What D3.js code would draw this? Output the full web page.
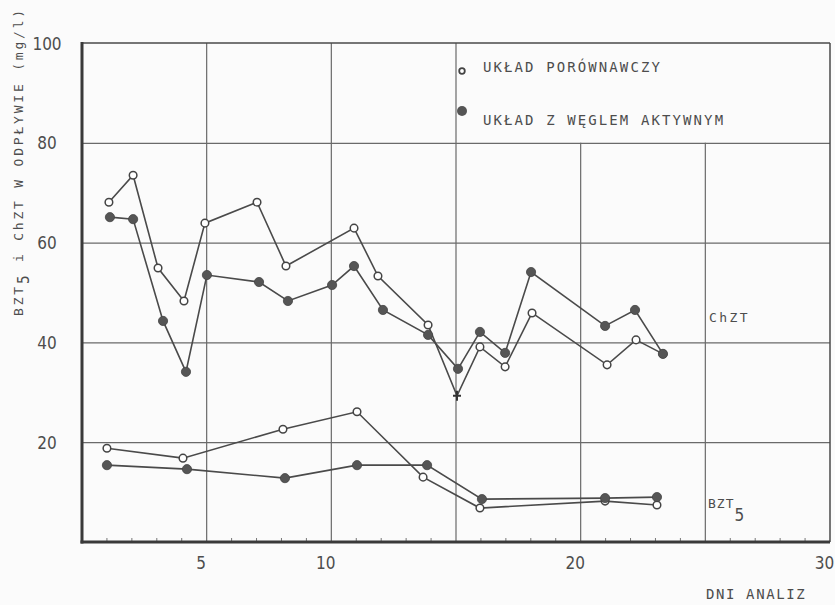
<!DOCTYPE html>
<html>
<head>
<meta charset="utf-8">
<script src="https://cdn.jsdelivr.net/npm/d3@7"></script>
<style>
  html, body { margin: 0; padding: 0; background: #fbfbfb; }
  svg { display: block; }
</style>
</head>
<body>
<svg id="chart" width="835" height="605"></svg>
<script>
// ---- data ----
const chztOpenDays   = [1.08, 2.05, 3.05, 4.09, 4.93, 7.02, 8.18, 10.91, 11.87, 13.88, 15.04, 15.96, 16.97, 18.05, 21.06, 22.22, 23.3];
const chztOpenValues = [68.1, 73.5, 54.9, 48.3, 63.9, 68.1, 55.3, 62.9, 53.3, 43.5, 29.3, 39.1, 35.1, 45.9, 35.5, 40.5, 37.7];
const chztFilledDays   = [1.12, 2.05, 3.25, 4.17, 5.01, 7.1, 8.26, 10.03, 10.91, 12.07, 13.88, 15.08, 15.96, 16.97, 18.01, 20.98, 22.18, 23.3];
const chztFilledValues = [65.1, 64.7, 44.3, 34.1, 53.5, 52.1, 48.3, 51.5, 55.3, 46.5, 41.5, 34.7, 42.1, 37.9, 54.1, 43.3, 46.5, 37.7];
const bztOpenDays   = [1.0, 4.05, 8.06, 11.03, 13.68, 15.96, 20.98, 23.06];
const bztOpenValues = [18.8, 16.8, 22.6, 26.1, 13.0, 6.8, 8.2, 7.4];
const bztFilledDays   = [1.0, 4.21, 8.14, 11.03, 13.84, 16.04, 20.98, 23.06];
const bztFilledValues = [15.4, 14.6, 12.8, 15.4, 15.4, 8.6, 8.8, 9.0];
const crossPointIndex = 10; // the open ChZT point drawn as "+"

const yTicks = [20, 40, 60, 80, 100];
const xTickLabels = [5, 10, 20, 30];
const xGrid = [5, 10, 15, 20, 25];
const xMinor = d3.range(1, 30).filter(d => d % 5 !== 0);
const legendLabels = ["UKŁAD PORÓWNAWCZY", "UKŁAD Z WĘGLEM AKTYWNYM"];

// ---- layout ----
const svg = d3.select("#chart");
const x = d3.scaleLinear().domain([0, 30]).range([82, 830]);
const y = d3.scaleLinear().domain([0, 100]).range([542, 43]);
const ink = "#4a4a4a";
const gridCol = "#6a6a6a";
const textCol = "#4d4d4d";
const labelFont = "'Liberation Sans Narrow', 'DejaVu Sans Condensed', sans-serif";
const monoFont = "'DejaVu Sans Mono', monospace";

// horizontal grid lines (full width)
const hg = svg.append("g")
  .attr("transform", `translate(${x(0)},0)`)
  .call(d3.axisLeft(y).tickValues([20, 40, 60, 80]).tickSize(-(x(30) - x(0))).tickFormat(""));
hg.select(".domain").remove();
hg.selectAll("line").attr("stroke", gridCol).attr("stroke-width", 1.3);

// vertical grid lines: 5,10,15 full height; 20,25 stop below the legend (at 80)
const vg = svg.append("g");
vg.selectAll("line").data(xGrid).join("line")
  .attr("x1", d => x(d)).attr("x2", d => x(d))
  .attr("y1", d => d >= 20 ? y(80) : y(100))
  .attr("y2", y(0))
  .attr("stroke", gridCol).attr("stroke-width", 1.2);

// minor ticks on the bottom axis
svg.append("g").selectAll("line").data(xMinor).join("line")
  .attr("x1", d => x(d)).attr("x2", d => x(d))
  .attr("y1", y(0)).attr("y2", y(0) - 4)
  .attr("stroke", "#777").attr("stroke-width", 1);

// frame: thin top and right, thick left and bottom
svg.append("line").attr("x1", x(0)).attr("x2", x(30)).attr("y1", y(100)).attr("y2", y(100))
  .attr("stroke", ink).attr("stroke-width", 1.5);
svg.append("line").attr("x1", x(30)).attr("x2", x(30)).attr("y1", y(100)).attr("y2", y(0))
  .attr("stroke", ink).attr("stroke-width", 1.5);
svg.append("line").attr("x1", x(0)).attr("x2", x(0)).attr("y1", y(100) - 1).attr("y2", y(0) + 1.5)
  .attr("stroke", "#3a3a3a").attr("stroke-width", 3);
svg.append("line").attr("x1", x(0) - 1.5).attr("x2", x(30)).attr("y1", y(0)).attr("y2", y(0))
  .attr("stroke", "#3a3a3a").attr("stroke-width", 3);

// y tick labels
const ya = svg.append("g")
  .attr("transform", `translate(47,0)`)
  .call(d3.axisLeft(y).tickValues(yTicks).tickSize(0).tickPadding(0));
ya.select(".domain").remove();
ya.selectAll("text")
  .attr("text-anchor", "middle").attr("dy", "0.36em")
  .style("font-family", labelFont).style("font-size", "17px").attr("fill", textCol);

// x tick labels
const xa = svg.append("g")
  .attr("transform", `translate(-6,555)`)
  .call(d3.axisBottom(x).tickValues(xTickLabels).tickSize(0).tickPadding(0));
xa.select(".domain").remove();
xa.selectAll("text")
  .attr("dy", "0.8em")
  .style("font-family", labelFont).style("font-size", "17px").attr("fill", textCol);

// series
const line = d3.line().x(d => x(d[0])).y(d => y(d[1]));
const zip = (a, b) => a.map((d, i) => [d, b[i]]);
const series = [
  { pts: zip(chztOpenDays, chztOpenValues), filled: false, cross: crossPointIndex },
  { pts: zip(chztFilledDays, chztFilledValues), filled: true },
  { pts: zip(bztOpenDays, bztOpenValues), filled: false },
  { pts: zip(bztFilledDays, bztFilledValues), filled: true }
];
series.forEach(s => {
  svg.append("path").attr("d", line(s.pts))
    .attr("fill", "none").attr("stroke", ink).attr("stroke-width", 1.6);
});
series.forEach(s => {
  const g = svg.append("g");
  s.pts.forEach((p, i) => {
    if (s.cross === i) {
      g.append("path")
        .attr("d", `M${x(p[0]) - 4},${y(p[1])}H${x(p[0]) + 4}M${x(p[0])},${y(p[1]) - 5}V${y(p[1]) + 5}`)
        .attr("stroke", "#333").attr("stroke-width", 2);
    } else if (s.filled) {
      g.append("circle").attr("cx", x(p[0])).attr("cy", y(p[1])).attr("r", 4.6)
        .attr("fill", "#555").attr("stroke", "#444").attr("stroke-width", 0.8);
    } else {
      g.append("circle").attr("cx", x(p[0])).attr("cy", y(p[1])).attr("r", 3.8)
        .attr("fill", "#fff").attr("stroke", "#444").attr("stroke-width", 1.5);
    }
  });
});

// legend
svg.append("circle").attr("cx", 462).attr("cy", 71).attr("r", 2.8)
  .attr("fill", "#fff").attr("stroke", "#444").attr("stroke-width", 1.8);
svg.append("circle").attr("cx", 462).attr("cy", 111).attr("r", 5)
  .attr("fill", "#555");
svg.append("g").selectAll("text").data(legendLabels).join("text")
  .attr("x", 483).attr("y", (d, i) => i === 0 ? 72 : 125)
  .text(d => d)
  .style("font-family", monoFont).style("font-size", "14px")
  .style("letter-spacing", "2.1px").attr("fill", textCol);

// series labels
svg.append("text").attr("x", 709).attr("y", 322).text("ChZT")
  .style("font-family", monoFont).style("font-size", "13px")
  .style("letter-spacing", "2.4px").attr("fill", textCol);
const bzt = svg.append("text").attr("x", 708).attr("y", 508)
  .style("font-family", monoFont).style("font-size", "13px").attr("fill", textCol);
bzt.append("tspan").text("BZT").style("letter-spacing", "1px");
bzt.append("tspan").attr("dy", 13).text("5").style("font-size", "17px").style("font-family", labelFont);

// x axis title
svg.append("text").attr("x", 706).attr("y", 599).text("DNI ANALIZ")
  .style("font-family", monoFont).style("font-size", "14px")
  .style("letter-spacing", "1.6px").attr("fill", textCol);

// y axis title (rotated)
const yt = svg.append("text")
  .attr("transform", "translate(23,316) rotate(-90)")
  .style("font-family", monoFont).style("font-size", "13px")
  .style("letter-spacing", "2.8px").attr("fill", textCol);
yt.append("tspan").text("BZT");
yt.append("tspan").attr("dy", 6).text("5").style("font-size", "15px").style("font-family", labelFont);
yt.append("tspan").attr("dy", -6).text(" i ChZT W ODPŁYWIE  ");
yt.append("tspan").text("(mg/l)");
</script>
</body>
</html>
